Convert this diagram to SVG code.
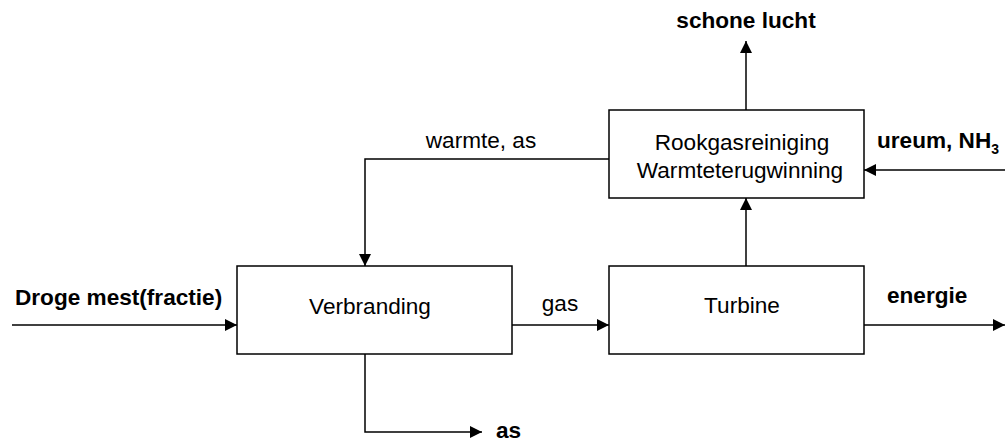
<svg xmlns="http://www.w3.org/2000/svg" width="1005" height="442" viewBox="0 0 1005 442">
<style>
.box{fill:#fff;stroke:#000;stroke-width:1.5}
.ln{fill:none;stroke:#000;stroke-width:1.5;marker-end:url(#ah)}
text{font-family:"Liberation Sans",Arial,sans-serif;font-size:22.6px;fill:#000}
.b{font-weight:bold}
</style>
<defs>
<marker id="ah" markerUnits="userSpaceOnUse" markerWidth="13" markerHeight="12" refX="12" refY="6" orient="auto">
<path d="M0,0 L12,6 L0,12 z" fill="#000"/>
</marker>
</defs>
<rect width="1005" height="442" fill="#fff"/>
<g id="connectors">
<path class="ln" d="M12,325 H237"/>
<path class="ln" d="M512,325 H609"/>
<path class="ln" d="M864,325 H1005"/>
<path class="ln" d="M746,266 V198"/>
<path class="ln" d="M746,110 V41"/>
<path class="ln" d="M1005,170 H864"/>
<path class="ln" d="M609,159 H365 V266"/>
<path class="ln" d="M365,354 V432 H482"/>
</g>
<g id="verbranding">
<rect class="box" x="237" y="266" width="275" height="88"/>
<text x="370" y="314" text-anchor="middle">Verbranding</text>
</g>
<g id="turbine">
<rect class="box" x="609" y="266" width="255" height="88"/>
<text x="742" y="313" text-anchor="middle">Turbine</text>
</g>
<g id="rookgas">
<rect class="box" x="609" y="110" width="255" height="88"/>
<text x="742" y="150" text-anchor="middle">Rookgasreiniging</text>
<text x="740" y="178" text-anchor="middle">Warmteterugwinning</text>
</g>
<g id="labels">
<text class="b" x="15" y="305">Droge mest(fractie)</text>
<text x="560" y="311" text-anchor="middle">gas</text>
<text class="b" x="887" y="303">energie</text>
<text x="481" y="148" text-anchor="middle">warmte, as</text>
<text class="b" x="746" y="28" text-anchor="middle">schone lucht</text>
<text class="b" x="877" y="148">ureum, NH<tspan font-size="14px" dy="6">3</tspan></text>
<text class="b" x="496" y="438">as</text>
</g>
</svg>
